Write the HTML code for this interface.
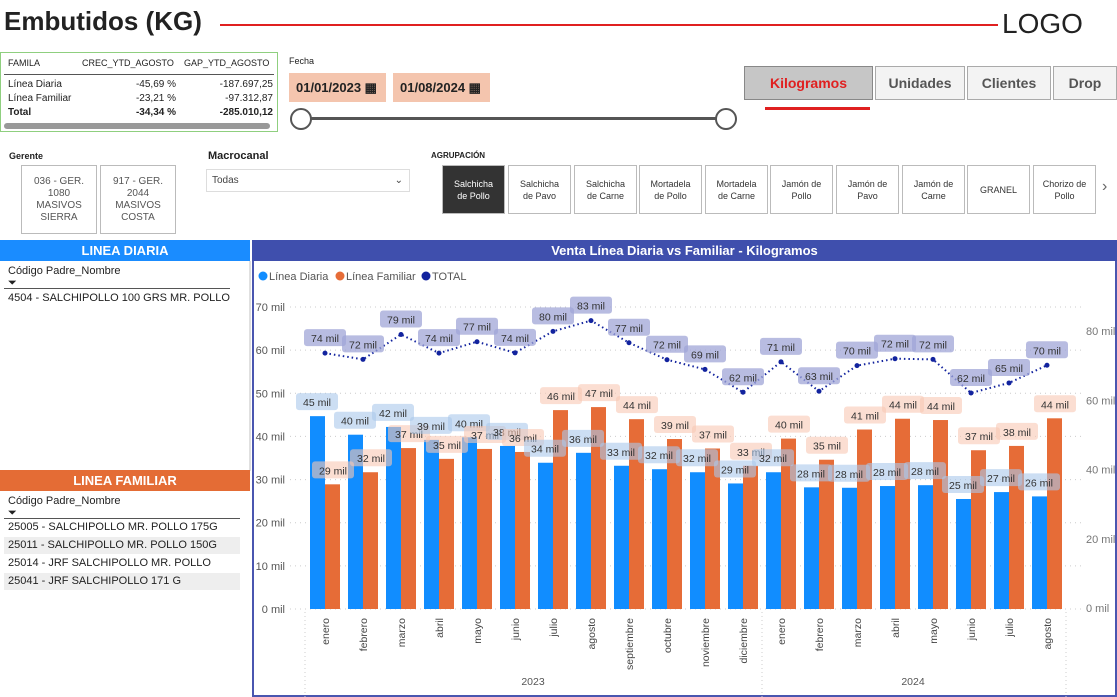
<!DOCTYPE html>
<html><head><meta charset="utf-8">
<style>
*{box-sizing:border-box;margin:0;padding:0}
body{width:1117px;height:697px;background:#fff;font-family:"Liberation Sans",sans-serif;position:relative;overflow:hidden;color:#222}
.abs{position:absolute}
.btn{position:absolute;top:66px;height:34px;border:1px solid #aaa;background:#f3f3f3;font-size:14px;font-weight:bold;color:#555;display:flex;align-items:center;justify-content:center}
.tile{position:absolute;top:165px;height:49px;border:1px solid #bbb;background:#fff;font-size:9px;color:#333;display:flex;align-items:center;justify-content:center;text-align:center;line-height:12px}
.row{position:absolute;left:4px;width:236px;height:17px;font-size:11px;padding-left:4px;line-height:17px}
</style></head><body>
<div class="abs" style="left:4px;top:6px;font-size:26px;font-weight:bold;color:#222">Embutidos (KG)</div>
<div class="abs" style="left:220px;top:24px;width:778px;height:2px;background:#e02020"></div>
<div class="abs" style="left:1002px;top:8px;font-size:28px;color:#222">LOGO</div>

<div class="abs" style="left:0;top:52px;width:278px;height:80px;border:1px solid #8fcf7f;font-size:10px">
 <div class="abs" style="left:7px;top:5px;font-size:9px">FAMILA</div><div class="abs" style="left:81px;top:5px;font-size:9px">CREC_YTD_AGOSTO</div><div class="abs" style="left:183px;top:5px;font-size:9px">GAP_YTD_AGOSTO</div>
 <div class="abs" style="left:3px;top:21px;width:270px;height:1px;background:#555"></div>
 <div class="abs" style="left:7px;top:25px;line-height:14px">Línea Diaria<br>Línea Familiar<br><b>Total</b></div>
 <div class="abs" style="left:120px;top:25px;width:55px;text-align:right;line-height:14px">-45,69 %<br>-23,21 %<br><b>-34,34 %</b></div>
 <div class="abs" style="left:190px;top:25px;width:82px;text-align:right;line-height:14px">-187.697,25<br>-97.312,87<br><b>-285.010,12</b></div>
 <div class="abs" style="left:3px;top:70px;width:266px;height:6px;border-radius:3px;background:#999"></div>
</div>

<div class="abs" style="left:289px;top:56px;font-size:9px">Fecha</div>
<div class="abs" style="left:289px;top:73px;width:97px;height:29px;background:#f4c5ae;font-size:13px;font-weight:bold;line-height:29px;padding-left:7px">01/01/2023 ▦</div>
<div class="abs" style="left:393px;top:73px;width:97px;height:29px;background:#f4c5ae;font-size:13px;font-weight:bold;line-height:29px;padding-left:7px">01/08/2024 ▦</div>
<div class="abs" style="left:300px;top:117px;width:426px;height:3px;background:#555"></div>
<div class="abs" style="left:290px;top:108px;width:22px;height:22px;border:2px solid #555;border-radius:50%;background:#fff"></div>
<div class="abs" style="left:715px;top:108px;width:22px;height:22px;border:2px solid #555;border-radius:50%;background:#fff"></div>

<div class="btn" style="left:744px;width:129px;background:#c6c6c6;color:#e02020;border-color:#888">Kilogramos</div>
<div class="abs" style="left:765px;top:107px;width:105px;height:3px;background:#e02020"></div>
<div class="btn" style="left:875px;width:90px">Unidades</div>
<div class="btn" style="left:967px;width:84px">Clientes</div>
<div class="btn" style="left:1053px;width:64px">Drop</div>

<div class="abs" style="left:9px;top:151px;font-size:9px;font-weight:bold">Gerente</div>
<div class="tile" style="left:21px;top:165px;width:76px;height:69px;font-size:10px;color:#555">036 - GER.<br>1080<br>MASIVOS<br>SIERRA</div>
<div class="tile" style="left:100px;top:165px;width:76px;height:69px;font-size:10px;color:#555">917 - GER.<br>2044<br>MASIVOS<br>COSTA</div>
<div class="abs" style="left:208px;top:150px;font-size:11px;font-weight:bold">Macrocanal</div>
<div class="abs" style="left:206px;top:169px;width:204px;height:23px;border:1px solid #ddd;font-size:10px;line-height:21px;padding-left:5px;color:#444">Todas<span style="float:right;margin-right:6px">⌄</span></div>
<div class="abs" style="left:431px;top:151px;font-size:8px;font-weight:bold">AGRUPACIÓN</div>
<div class="tile" style="left:442px;width:63px;background:#333;color:#fff">Salchicha<br>de Pollo</div>
<div class="tile" style="left:508px;width:63px">Salchicha<br>de Pavo</div>
<div class="tile" style="left:574px;width:63px">Salchicha<br>de Carne</div>
<div class="tile" style="left:639px;width:63px">Mortadela<br>de Pollo</div>
<div class="tile" style="left:705px;width:63px">Mortadela<br>de Carne</div>
<div class="tile" style="left:770px;width:63px">Jamón de<br>Pollo</div>
<div class="tile" style="left:836px;width:63px">Jamón de<br>Pavo</div>
<div class="tile" style="left:902px;width:63px">Jamón de<br>Carne</div>
<div class="tile" style="left:967px;width:63px">GRANEL</div>
<div class="tile" style="left:1033px;width:63px">Chorizo de<br>Pollo</div>
<div class="abs" style="left:1102px;top:178px;font-size:16px;color:#666">›</div>

<div class="abs" style="left:0;top:240px;width:250px;height:21px;background:#1a8cff;color:#fff;font-weight:bold;font-size:13px;text-align:center;line-height:21px">LINEA DIARIA</div>
<div class="abs" style="left:8px;top:265px;font-size:11px">Código Padre_Nombre<br>⏷</div>
<div class="abs" style="left:4px;top:288px;width:226px;height:1px;background:#555"></div>
<div class="row" style="top:290px">4504 - SALCHIPOLLO 100 GRS MR. POLLO</div>
<div class="abs" style="left:249px;top:261px;width:2px;height:210px;background:#e0e0e0"></div>

<div class="abs" style="left:0;top:470px;width:250px;height:21px;background:#e46c35;color:#fff;font-weight:bold;font-size:13px;text-align:center;line-height:21px">LINEA FAMILIAR</div>
<div class="abs" style="left:8px;top:495px;font-size:11px">Código Padre_Nombre<br>⏷</div>
<div class="abs" style="left:4px;top:518px;width:236px;height:1px;background:#555"></div>
<div class="row" style="top:519px">25005 - SALCHIPOLLO MR. POLLO 175G</div>
<div class="row" style="top:537px;background:#eee">25011 - SALCHIPOLLO MR. POLLO 150G</div>
<div class="row" style="top:555px">25014 - JRF SALCHIPOLLO MR. POLLO 200G</div>
<div class="row" style="top:573px;background:#eee">25041 - JRF SALCHIPOLLO 171 G</div>

<div class="abs" style="left:252px;top:240px;width:865px;height:457px;border:2px solid #4a56b0;border-top:none"></div>
<div class="abs" style="left:252px;top:240px;width:865px;height:21px;background:#3f4fad;color:#fff;font-weight:bold;font-size:13px;text-align:center;line-height:21px">Venta Línea Diaria vs Familiar - Kilogramos</div>

<svg class="abs" style="left:0;top:0" width="1117" height="697" id="chart" font-family="Liberation Sans, sans-serif"></svg>
<script>
const months=["enero","febrero","marzo","abril","mayo","junio","julio","agosto","septiembre","octubre","noviembre","diciembre","enero","febrero","marzo","abril","mayo","junio","julio","agosto"];
const diaria=[44.7,40.4,42.2,39.2,39.8,37.8,33.9,36.2,33.2,32.4,31.7,29.1,31.7,28.2,28.1,28.5,28.7,25.5,27.1,26.1];
const familiar=[28.9,31.7,37.3,34.8,37.1,36.4,46.1,46.8,44.0,39.4,37.2,33.2,39.5,34.6,41.6,44.1,43.8,36.8,37.8,44.2];
const total=[73.6,71.8,79.0,73.6,76.9,73.7,79.9,83.0,76.6,71.7,68.9,62.3,71.1,62.6,70.0,72.0,71.8,62.1,65.0,70.1];
const diariaLbl=["45 mil","40 mil","42 mil","39 mil","40 mil","38 mil","34 mil","36 mil","33 mil","32 mil","32 mil","29 mil","32 mil","28 mil","28 mil","28 mil","28 mil","25 mil","27 mil","26 mil"];
const familiarLbl=["29 mil","32 mil","37 mil","35 mil","37 mil","36 mil","46 mil","47 mil","44 mil","39 mil","37 mil","33 mil","40 mil","35 mil","41 mil","44 mil","44 mil","37 mil","38 mil","44 mil"];
const totalLbl=["74 mil","72 mil","79 mil","74 mil","77 mil","74 mil","80 mil","83 mil","77 mil","72 mil","69 mil","62 mil","71 mil","63 mil","70 mil","72 mil","72 mil","62 mil","65 mil","70 mil"];
const leftTicks=[0,10,20,30,40,50,60,70];
const rightTicks=[0,20,40,60,80];
const years=["2023","2024"];
const svg=document.getElementById('chart');const NS="http://www.w3.org/2000/svg";
function el(t,a,p){const e=document.createElementNS(NS,t);for(const k in a)e.setAttribute(k,a[k]);(p||svg).appendChild(e);return e;}
const yL=v=>609-v*(302/70);
const yR=v=>608-v*(277/80);
const xC=i=>325+i*38;
const bw=15;
leftTicks.forEach(t=>{const g=el('line',{x1:290,x2:1085,y1:yL(t),y2:yL(t),stroke:'#ccc','stroke-dasharray':'1,4'});
const tx=el('text',{x:285,y:yL(t)+4,'text-anchor':'end','font-size':11,fill:'#555'});tx.textContent=t+' mil';});
rightTicks.forEach(t=>{const tx=el('text',{x:1086,y:yR(t)+4,'font-size':11,fill:'#777'});tx.textContent=t+' mil';});
function label(cx,y,txt,fill,name){const g=el('g',{});
el('rect',{x:cx-21,y:y-9,width:42,height:17,rx:3,fill:fill},g);const t=el('text',{x:cx,y:y+4,'text-anchor':'middle','font-size':10.5,fill:'#333'},g);t.textContent=txt;}
months.forEach((m,i)=>{const x=xC(i);
const b=el('rect',{x:x-bw,y:yL(diaria[i]),width:bw,height:609-yL(diaria[i]),fill:'#118dff'});
const o=el('rect',{x:x,y:yL(familiar[i]),width:bw,height:609-yL(familiar[i]),fill:'#e66c37'});
const t=el('text',{transform:`translate(${x+4},618) rotate(-90)`,'text-anchor':'end','font-size':10.5,fill:'#444'});t.textContent=m;});
el('line',{x1:305,x2:305,y1:612,y2:697,stroke:'#ccc','stroke-dasharray':'1,3'});
el('line',{x1:762,x2:762,y1:612,y2:697,stroke:'#ccc','stroke-dasharray':'1,3'});
el('line',{x1:1066,x2:1066,y1:612,y2:697,stroke:'#ccc','stroke-dasharray':'1,3'});
years.forEach((y,i)=>{const t=el('text',{x:i?913:533,y:685,'text-anchor':'middle','font-size':10.5,fill:'#555'});t.textContent=y;});
let pts=total.map((v,i)=>xC(i)+','+yR(v)).join(' ');
const pl=el('polyline',{points:pts,fill:'none',stroke:'#12239e','stroke-width':2,'stroke-dasharray':'1.5,3'});
total.forEach((v,i)=>{const c=el('circle',{cx:xC(i),cy:yR(v),r:2.5,fill:'#12239e'});});
months.forEach((m,i)=>{label(xC(i)-8,yL(diaria[i])-14,diariaLbl[i],'rgba(170,200,235,0.6)','label-diaria');
label(xC(i)+8,yL(familiar[i])-14,familiarLbl[i],'rgba(248,200,180,0.6)','label-familiar');});
total.forEach((v,i)=>label(xC(i),yR(v)-15,totalLbl[i],'rgba(160,165,215,0.75)','label-total'));
const leg=[["Línea Diaria","#118dff",258],["Línea Familiar","#e66c37",335],["TOTAL","#12239e",421]];
leg.forEach(l=>{const g=el('g',{});
el('circle',{cx:l[2]+5,cy:276,r:4.5,fill:l[1]},g);const t=el('text',{x:l[2]+11,y:280,'font-size':11,fill:'#555'},g);t.textContent=l[0];});
</script>
</body></html>
